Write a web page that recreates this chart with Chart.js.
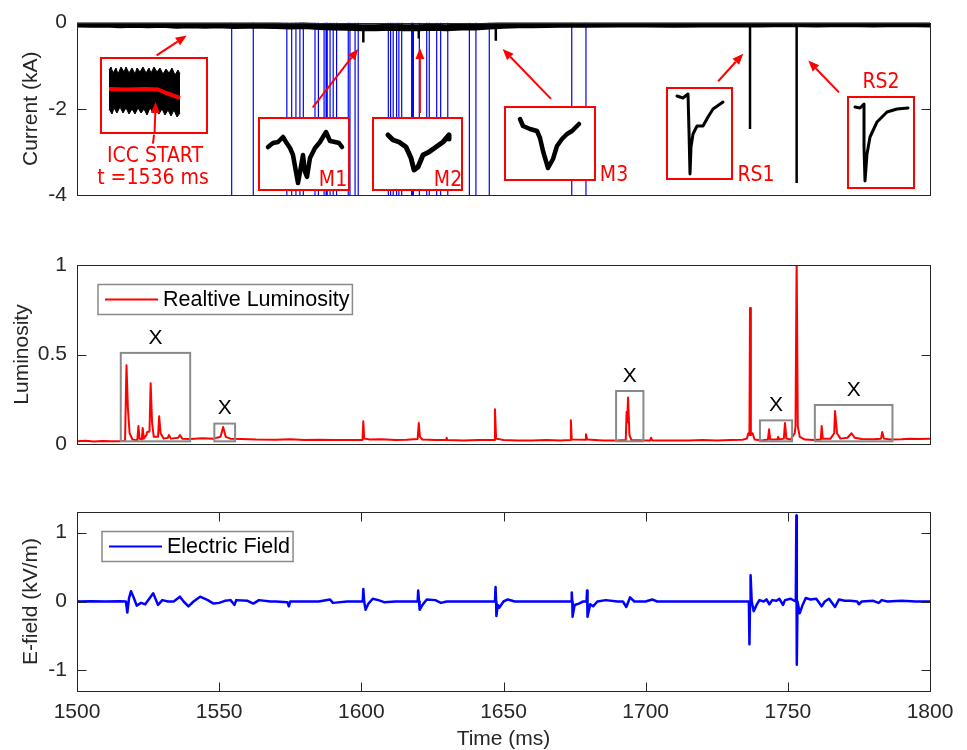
<!DOCTYPE html>
<html>
<head>
<meta charset="utf-8">
<script src="https://cdn.jsdelivr.net/npm/chart.js@4.4.0/dist/chart.umd.min.js"></script>
<style>
body { margin: 0; background: #fff; overflow: hidden; }
#wrap { position: relative; width: 967px; height: 750px; }
#wrap canvas { position: absolute; }
.lbl { position: absolute; color: #ff0000; font: 21px 'Liberation Sans Narrow', 'DejaVu Sans Condensed', 'Liberation Sans', sans-serif; transform: translate(-50%, -50%); white-space: nowrap; }
</style>
</head>
<body>
<div id="wrap">
  <canvas id="cTop" width="967" height="230" style="left:0;top:0"></canvas>
  <canvas id="cMid" width="967" height="240" style="left:0;top:230px"></canvas>
  <canvas id="cBot" width="967" height="280" style="left:0;top:470px"></canvas>

  <canvas id="inICC" width="108" height="77" style="left:100px;top:57px"></canvas>
  <canvas id="inM1" width="92" height="74" style="left:258px;top:117px"></canvas>
  <canvas id="inM2" width="91" height="74" style="left:372px;top:117px"></canvas>
  <canvas id="inM3" width="92" height="75" style="left:504px;top:106px"></canvas>
  <canvas id="inRS1" width="67" height="93" style="left:666px;top:87px"></canvas>
  <canvas id="inRS2" width="68" height="93" style="left:847px;top:96px"></canvas>

  <div class="lbl" style="left:155px;top:155px">ICC START</div>
  <div class="lbl" style="left:153px;top:177px">t =1536 ms</div>
  <div class="lbl" style="left:333px;top:179px">M1</div>
  <div class="lbl" style="left:448px;top:179px">M2</div>
  <div class="lbl" style="left:614px;top:174px">M3</div>
  <div class="lbl" style="left:756px;top:174px">RS1</div>
  <div class="lbl" style="left:881px;top:81px">RS2</div>
</div>
<script>
// ---- data ----
const timeTicks = [1500, 1550, 1600, 1650, 1700, 1750, 1800];
const currentTicks = [-4, -2, 0];
const lumTicks = [0, 0.5, 1];
const efieldTicks = [-1, 0, 1];

// current band (t ms, kA)
const currentBase = [[1500,-0.03],[1505,-0.04],[1510,-0.03],[1515,-0.05],[1520,-0.04],[1525,-0.05],[1530,-0.04],[1535,-0.06],
  [1540,-0.05],[1545,-0.06],[1550,-0.05],[1555,-0.07],[1560,-0.06],[1565,-0.06],[1570,-0.07],[1575,-0.08],[1580,-0.07],
  [1585,-0.09],[1590,-0.1],[1595,-0.11],[1600,-0.12],[1605,-0.12],[1610,-0.11],[1615,-0.12],[1620,-0.12],[1625,-0.11],
  [1630,-0.12],[1635,-0.1],[1640,-0.1],[1645,-0.08],[1650,-0.06],[1655,-0.05],[1660,-0.05],[1670,-0.04],[1680,-0.04],
  [1690,-0.03],[1700,-0.03],[1710,-0.04],[1720,-0.03],[1730,-0.03],[1740,-0.03],[1750,-0.02],[1760,-0.03],[1770,-0.02],
  [1780,-0.03],[1790,-0.02],[1800,-0.03]];
// return-stroke / M-component spikes (t, lowest kA)
const currentSpikes = [[1600.7,-0.46],[1620.2,-0.37],[1647.3,-0.42],[1736.7,-2.47],[1753.1,-3.72]];
// blue vertical markers (t)
const blueLines = [1554.4,1562.0,1573.8,1575.5,1577.0,1578.4,1579.6,1583.7,1584.9,1586.9,1587.6,1588.0,1589.0,1590.1,
  1591.3,1595.4,1596.0,1597.8,1598.9,1609.5,1610.3,1611.2,1612.4,1613.2,1614.2,1617.7,1618.1,1618.3,1620.4,1623.0,
  1623.9,1626.5,1627.9,1630.4,1638.0,1640.3,1645.0,1674.0,1679.0];
// arrows (from t, kA) -> (to t, kA)
const currentArrows = [[1528.0,-0.76,1538.6,-0.30],[1582.9,-1.97,1598.9,-0.61],[1620.6,-2.10,1620.6,-0.59],
  [1666.7,-1.77,1649.7,-0.61],[1725.5,-1.36,1734.3,-0.72],[1768.0,-1.62,1757.2,-0.88]];
const iccStem = [1526.7,-2.81,1527.1,-2.6];

const luminosity = [[1500,0.015],[1503,0.018],[1506,0.014],[1509,0.017],[1512,0.015],[1515,0.016],[1516.9,0.018],
  [1517.4,0.44],[1517.9,0.2],[1518.5,0.06],[1519.5,0.025],[1521.2,0.02],[1521.6,0.10],[1522,0.03],[1522.8,0.025],
  [1523.1,0.09],[1523.5,0.03],[1524.4,0.05],[1524.7,0.067],[1525.5,0.07],[1525.9,0.34],[1526.4,0.12],[1527,0.04],
  [1528.5,0.04],[1528.9,0.155],[1529.4,0.06],[1530.5,0.03],[1532,0.035],[1532.3,0.05],[1533,0.03],[1535.6,0.035],
  [1536.2,0.05],[1537,0.03],[1540,0.028],[1544,0.032],[1548,0.03],[1550.5,0.04],[1551.4,0.095],[1552.3,0.04],
  [1554,0.03],[1558,0.028],[1563,0.025],[1570,0.024],[1575,0.026],[1580,0.022],[1585,0.024],[1590,0.022],[1595,0.023],
  [1600.4,0.022],[1600.7,0.127],[1601,0.03],[1603,0.025],[1607,0.027],[1612,0.022],[1616,0.024],[1619.8,0.028],
  [1620.2,0.117],[1620.6,0.04],[1621.5,0.025],[1626,0.022],[1629.8,0.022],[1630,0.035],[1630.3,0.022],[1636,0.02],
  [1641,0.023],[1646.7,0.022],[1647,0.194],[1647.4,0.03],[1650,0.022],[1655,0.02],[1660,0.02],[1665,0.022],[1670,0.02],
  [1673.5,0.022],[1673.7,0.132],[1674,0.025],[1678.7,0.024],[1679,0.054],[1679.4,0.025],[1685,0.02],[1690,0.02],
  [1693,0.022],[1693.3,0.18],[1693.5,0.12],[1693.8,0.26],[1694.3,0.05],[1695,0.022],[1700,0.02],[1701.6,0.02],
  [1701.9,0.035],[1702.3,0.02],[1708,0.02],[1715,0.02],[1720,0.022],[1725,0.02],[1730,0.022],[1734,0.024],
  [1735.6,0.03],[1736.1,0.06],[1736.5,0.05],[1736.7,0.76],[1737,0.05],[1737.6,0.06],[1738.3,0.025],[1741,0.02],
  [1743,0.025],[1743.4,0.082],[1743.8,0.025],[1746.3,0.025],[1746.6,0.04],[1747,0.025],[1748.6,0.03],[1749,0.117],
  [1749.5,0.03],[1751,0.025],[1752.4,0.06],[1752.7,0.1],[1753.1,1.05],[1753.5,0.1],[1754.2,0.04],[1756,0.025],
  [1759,0.022],[1761.6,0.025],[1761.9,0.1],[1762.3,0.03],[1765,0.03],[1766.3,0.06],[1766.6,0.184],[1767.3,0.06],
  [1768.5,0.03],[1771,0.035],[1772.4,0.06],[1773.5,0.035],[1776,0.028],[1780,0.026],[1782.8,0.03],[1783.2,0.067],
  [1783.8,0.03],[1786,0.025],[1790,0.027],[1793,0.03],[1796,0.028],[1800,0.03]];
// marked luminosity groups: [t start, t end, top]
const lumBoxes = [[1515.4,1539.8,0.509],[1548.3,1555.6,0.114],[1689.6,1699.2,0.296],[1740.2,1751.5,0.132],[1759.5,1786.8,0.218]];

const efield = [[1500,0],[1505,0.005],[1510,0],[1515,0.005],[1517.2,0],[1517.7,-0.16],[1518.3,0.05],[1519,0.15],
  [1520,0.05],[1521,-0.06],[1522.5,-0.02],[1524,-0.04],[1526.8,0.12],[1527.8,0.02],[1528.5,-0.05],[1530,0.02],
  [1532,0],[1534,0],[1536.2,0.07],[1537.5,0],[1539.2,-0.07],[1541,0],[1543.3,0.07],[1546,0.02],[1548,-0.03],
  [1550,-0.02],[1552,0.01],[1554,0.02],[1555.4,-0.05],[1556,0.02],[1560,0.01],[1562,-0.03],[1564,0.02],[1568,0],
  [1570,0],[1574,-0.01],[1574.5,-0.07],[1575,0],[1580,0],[1585,0],[1589,0.03],[1590,-0.02],[1595,0],[1600.5,0],
  [1600.7,0.18],[1601,0],[1601.5,-0.12],[1602.5,-0.03],[1604,0.04],[1606,0.02],[1608,-0.01],[1612,0],[1616,0],
  [1619.8,0],[1620,0.16],[1620.3,0],[1620.5,-0.12],[1621.5,-0.05],[1623,0.03],[1626,0.02],[1628,-0.02],[1630,0],
  [1635,0],[1640,0],[1644,0],[1647,0],[1647.2,0.21],[1647.4,0],[1647.5,-0.21],[1648,-0.05],[1648.5,-0.09],[1650,0],
  [1651.5,0.03],[1654,0],[1660,0],[1665,0],[1670,0],[1673.8,0],[1674,0.13],[1674.2,0],[1674.3,-0.22],[1675,-0.05],
  [1676.5,-0.03],[1678,0],[1679.2,0],[1679.4,0.16],[1679.5,0],[1679.6,-0.22],[1680.5,-0.04],[1681.5,-0.07],[1683,0],
  [1686,0.02],[1690,0],[1692,0],[1693.2,-0.08],[1694.5,0.06],[1696,0],[1700,0],[1702.3,0.03],[1704,0],[1710,0],
  [1720,0],[1730,0],[1735,0],[1736.3,0],[1736.5,-0.62],[1736.7,0],[1736.9,0.38],[1737.3,0],[1738,-0.14],[1739,-0.05],
  [1740,0.02],[1741.5,0],[1742.5,0.03],[1743.5,-0.04],[1744.5,0.02],[1746,0.01],[1747,0.04],[1748.3,-0.05],[1749,0.02],
  [1751,0.04],[1752.8,0],[1753.0,1.25],[1753.1,0],[1753.2,-0.92],[1753.4,0],[1754.2,-0.17],[1755.2,-0.05],[1756.3,0.05],
  [1758,0.03],[1760,0.04],[1761.9,-0.07],[1763,0],[1764.5,0.04],[1766.6,-0.08],[1768,0.03],[1770,0.01],[1772,0.01],
  [1774.4,0],[1775,-0.04],[1776,0],[1780,0.01],[1782,-0.02],[1783,0.02],[1785,0],[1790,0.01],[1795,0],[1800,0]];

// zoomed insets (local units)
const iccTop = [[9,64],[11,67],[13,61],[16,66],[18,60],[21,67],[24,62],[26,67],[29,61],[32,66],[35,60],[37,66],[40,62],
  [43,67],[46,61],[49,66],[51,61],[54,67],[57,62],[60,66],[63,60],[66,65],[69,61],[72,66],[75,59],[78,64],[80,60]];
const iccBottom = [[9,25],[12,20],[14,26],[17,21],[20,27],[23,21],[26,26],[29,20],[32,25],[35,20],[38,26],[41,21],
  [44,25],[47,19],[50,26],[53,21],[56,25],[59,20],[62,25],[65,19],[68,24],[71,18],[74,24],[77,17],[80,21]];
const iccRed = [[9,45],[25,44.5],[45,45],[58,44.5],[66,41],[80,36]];
const iccArrow = [54.5,0,55.7,32];
const m1Trace = [[10,44],[15,48],[20,49],[25,54],[28,49],[32,43],[35,36],[38,19],[40,8],[42,19],[45,36],[47,19],
  [49,14],[52,33],[57,43],[62,49],[68,59],[72,50],[77,49],[81,48],[84,44]];
const m2Trace = [[16,56],[21,51],[27,49],[34,44],[39,33],[42,21],[46,24],[51,36],[57,39],[64,44],[71,49],[77,56],[77,52]];
const m3Trace = [[16,62],[19,55],[26,52],[33,50],[36,43],[39,30],[44,13],[49,22],[53,35],[58,42],[63,47],[68,50],
  [73,55],[75,57]];
const rs1Trace = [[11,84],[17,82],[22,86],[23,49],[24,6],[25,33],[27,46],[31,54],[37,54],[42,63],[47,71],[57,78]];
const rs2Trace = [[8,82],[13,81],[17,85],[17,42],[18,8],[20,35],[23,52],[30,67],[40,77],[50,80],[61,81]];

// ---- helpers ----
const xy = a => a.map(p => ({x: p[0], y: p[1]}));
const vlines = (ts, y0, y1) => ts.flatMap(t => [{x: t, y: y0}, {x: t, y: y1}, {x: t, y: null}]);
const INK = '#262626';
const FONT = "'Liberation Sans', Arial, sans-serif";

function drawArrow(ctx, x0, y0, x1, y1, head) {
  const ang = Math.atan2(y1 - y0, x1 - x0), L = head ? 11 : 0, W = 4.5;
  const bx = x1 - L * Math.cos(ang), by = y1 - L * Math.sin(ang);
  ctx.beginPath(); ctx.moveTo(x0, y0); ctx.lineTo(bx, by); ctx.stroke();
  if (head) {
    ctx.beginPath(); ctx.moveTo(x1, y1);
    ctx.lineTo(bx - W * Math.sin(ang), by + W * Math.cos(ang));
    ctx.lineTo(bx + W * Math.sin(ang), by - W * Math.cos(ang));
    ctx.closePath(); ctx.fill();
  }
}

// box + inward ticks, legend, marked boxes, arrows
const frame = {
  id: 'frame',
  afterDatasetsDraw(chart, args, o) {
    const {ctx, chartArea: a, scales} = chart;
    ctx.save();
    if (o.arrows) {
      ctx.strokeStyle = '#ff0000'; ctx.fillStyle = '#ff0000'; ctx.lineWidth = 2;
      o.arrows.forEach(r => drawArrow(ctx, scales.x.getPixelForValue(r[0]), scales.y.getPixelForValue(r[1]),
        scales.x.getPixelForValue(r[2]), scales.y.getPixelForValue(r[3]), r[4] !== false));
    }
    if (o.boxes) {
      ctx.strokeStyle = '#8a8a8a'; ctx.lineWidth = 2;
      ctx.fillStyle = '#000'; ctx.font = '21px ' + FONT; ctx.textAlign = 'center'; ctx.textBaseline = 'middle';
      o.boxes.forEach(b => {
        const x0 = scales.x.getPixelForValue(b[0]), x1 = scales.x.getPixelForValue(b[1]);
        const yt = scales.y.getPixelForValue(b[2]), yb = scales.y.getPixelForValue(0.015);
        ctx.strokeRect(x0, yt, x1 - x0, yb - yt);
        ctx.fillText('X', (x0 + x1) / 2, yt - 15);
      });
    }
    ctx.strokeStyle = INK; ctx.lineWidth = 1;
    const L = Math.round(a.left) + 0.5, R = Math.round(a.right) + 0.5;
    const T = Math.round(a.top) + 0.5, B = Math.round(a.bottom) + 0.5;
    ctx.strokeRect(L, T, R - L, B - T);
    ctx.beginPath();
    (o.yTicks || []).forEach(v => {
      const y = Math.round(scales.y.getPixelForValue(v)) + 0.5;
      ctx.moveTo(L, y); ctx.lineTo(L + 9, y); ctx.moveTo(R, y); ctx.lineTo(R - 9, y);
    });
    (o.xTicks || []).forEach(v => {
      const x = Math.round(scales.x.getPixelForValue(v)) + 0.5;
      ctx.moveTo(x, B); ctx.lineTo(x, B - 9); ctx.moveTo(x, T); ctx.lineTo(x, T + 9);
    });
    ctx.stroke();
    if (o.legend) {
      const ds = chart.data.datasets[0];
      const g = o.legend;
      ctx.font = '21.5px ' + FONT;
      const tw = ctx.measureText(ds.label).width;
      const x = a.left + g.dx, y = a.top + g.dy, h = 30, w = 60 + tw + 8;
      ctx.fillStyle = '#fff'; ctx.fillRect(x, y, w, h);
      ctx.strokeStyle = '#8a8a8a'; ctx.lineWidth = 1.5; ctx.strokeRect(x, y, w, h);
      ctx.strokeStyle = ds.borderColor; ctx.lineWidth = 2;
      ctx.beginPath(); ctx.moveTo(x + 7, y + h / 2); ctx.lineTo(x + 60, y + h / 2); ctx.stroke();
      ctx.fillStyle = '#000'; ctx.textAlign = 'left'; ctx.textBaseline = 'middle';
      ctx.fillText(ds.label, x + 65, y + h / 2 + 1);
    }
    ctx.restore();
  }
};

const plain = v => String(v);
function yAxis(min, max, ticks, title, titlePad) {
  return {
    min: min, max: max,
    afterBuildTicks: s => { s.ticks = ticks.map(v => ({value: v})); },
    afterFit: s => { s.width = 77; },
    grid: {display: false, drawTicks: false}, border: {display: false},
    ticks: {color: INK, padding: 10, font: {family: FONT, size: 21}, callback: plain},
    title: {display: true, text: title, color: INK, font: {family: FONT, size: 21, lineHeight: 1},
      padding: {top: titlePad, bottom: 0}}
  };
}
const hiddenX = {type: 'linear', min: 1500, max: 1800, display: false};
const base = {responsive: false, animation: false, devicePixelRatio: 1, events: []};

new Chart(document.getElementById('cTop'), {
  type: 'line',
  data: {datasets: [
    {data: xy(currentBase), borderColor: '#000', borderWidth: 7, pointRadius: 0, borderJoinStyle: 'round'},
    {data: vlines(currentSpikes.map(s => s[0]), -0.06, 0).map((p, i) => i % 3 === 1 ? {x: p.x, y: currentSpikes[(i - 1) / 3][1]} : p),
      borderColor: '#000', borderWidth: 2.5, pointRadius: 0, spanGaps: false},
    {data: vlines(blueLines, 0, -4), borderColor: '#0000ff', borderWidth: 1.2, pointRadius: 0, spanGaps: false}
  ]},
  options: Object.assign({}, base, {
    layout: {padding: {top: 20, bottom: 35, left: 0, right: 37}},
    plugins: {legend: {display: false}, tooltip: {enabled: false},
      frame: {yTicks: currentTicks, arrows: currentArrows.concat([iccStem.concat([false])])}},
    scales: {x: hiddenX, y: yAxis(-4, 0, currentTicks, 'Current (kA)', 21)}
  }),
  plugins: [frame]
});

new Chart(document.getElementById('cMid'), {
  type: 'line',
  data: {datasets: [
    {label: 'Realtive Luminosity', data: xy(luminosity), borderColor: '#ff0000', borderWidth: 2, pointRadius: 0, borderJoinStyle: 'round'}
  ]},
  options: Object.assign({}, base, {
    layout: {padding: {top: 35, bottom: 26, left: 0, right: 37}},
    plugins: {legend: {display: false}, tooltip: {enabled: false},
      frame: {yTicks: lumTicks, boxes: lumBoxes, legend: {dx: 21, dy: 19.5}}},
    scales: {x: hiddenX, y: yAxis(0, 1, lumTicks, 'Luminosity', 12)}
  }),
  plugins: [frame]
});

new Chart(document.getElementById('cBot'), {
  type: 'line',
  data: {datasets: [
    {label: 'Electric Field', data: xy(efield), borderColor: '#0000ff', borderWidth: 2.5, pointRadius: 0, borderJoinStyle: 'round'}
  ]},
  options: Object.assign({}, base, {
    layout: {padding: {top: 42, bottom: 0, left: 0, right: 37}},
    plugins: {legend: {display: false}, tooltip: {enabled: false},
      frame: {yTicks: efieldTicks, xTicks: timeTicks, legend: {dx: 25, dy: 19.5}}},
    scales: {
      x: {type: 'linear', min: 1500, max: 1800,
        afterBuildTicks: s => { s.ticks = timeTicks.map(v => ({value: v})); },
        afterFit: s => { s.height = 59; },
        grid: {display: false, drawTicks: false}, border: {display: false},
        ticks: {color: INK, padding: 9, maxRotation: 0, font: {family: FONT, size: 21}, callback: plain},
        title: {display: true, text: 'Time (ms)', color: INK, font: {family: FONT, size: 21, lineHeight: 1},
          padding: {top: 0, bottom: 0}}},
      y: yAxis(-1.3, 1.3, efieldTicks, 'E-field (kV/m)', 21)
    }
  }),
  plugins: [frame]
});

// insets
const insetFrame = {
  id: 'insetFrame',
  beforeDraw(chart) {
    const {ctx, width, height} = chart;
    ctx.save(); ctx.fillStyle = '#fff'; ctx.fillRect(0, 0, width, height); ctx.restore();
  },
  afterDraw(chart, args, o) {
    const {ctx, width, height, scales} = chart;
    ctx.save();
    ctx.strokeStyle = '#ff0000'; ctx.fillStyle = '#ff0000'; ctx.lineWidth = 2;
    if (o.arrow) {
      const r = o.arrow;
      drawArrow(ctx, scales.x.getPixelForValue(r[0]), scales.y.getPixelForValue(r[1]),
        scales.x.getPixelForValue(r[2]), scales.y.getPixelForValue(r[3]), true);
    }
    ctx.strokeRect(1, 1, width - 2, height - 2);
    ctx.restore();
  }
};
function inset(id, sets, arrow) {
  const cv = document.getElementById(id);
  new Chart(cv, {
    type: 'line',
    data: {datasets: sets},
    options: Object.assign({}, base, {
      layout: {padding: 0},
      plugins: {legend: {display: false}, tooltip: {enabled: false}, insetFrame: {arrow: arrow}},
      scales: {x: {type: 'linear', display: false, min: 0, max: cv.width},
               y: {display: false, min: 0, max: cv.height}}
    }),
    plugins: [insetFrame]
  });
}
const trace = (a, w) => ({data: xy(a), borderColor: '#000', borderWidth: w, pointRadius: 0, borderJoinStyle: 'round', borderCapStyle: 'round'});
inset('inICC', [
  {data: xy(iccRed), borderColor: '#ff0000', borderWidth: 4, pointRadius: 0},
  {data: xy(iccTop), borderColor: '#000', borderWidth: 1, pointRadius: 0, fill: false},
  {data: xy(iccBottom), borderColor: '#000', backgroundColor: '#000', borderWidth: 1, pointRadius: 0, fill: '-1'}
], iccArrow);
inset('inM1', [trace(m1Trace, 4.5)]);
inset('inM2', [trace(m2Trace, 5)]);
inset('inM3', [trace(m3Trace, 4.5)]);
inset('inRS1', [trace(rs1Trace, 3)]);
inset('inRS2', [trace(rs2Trace, 3)]);
</script>
</body>
</html>
